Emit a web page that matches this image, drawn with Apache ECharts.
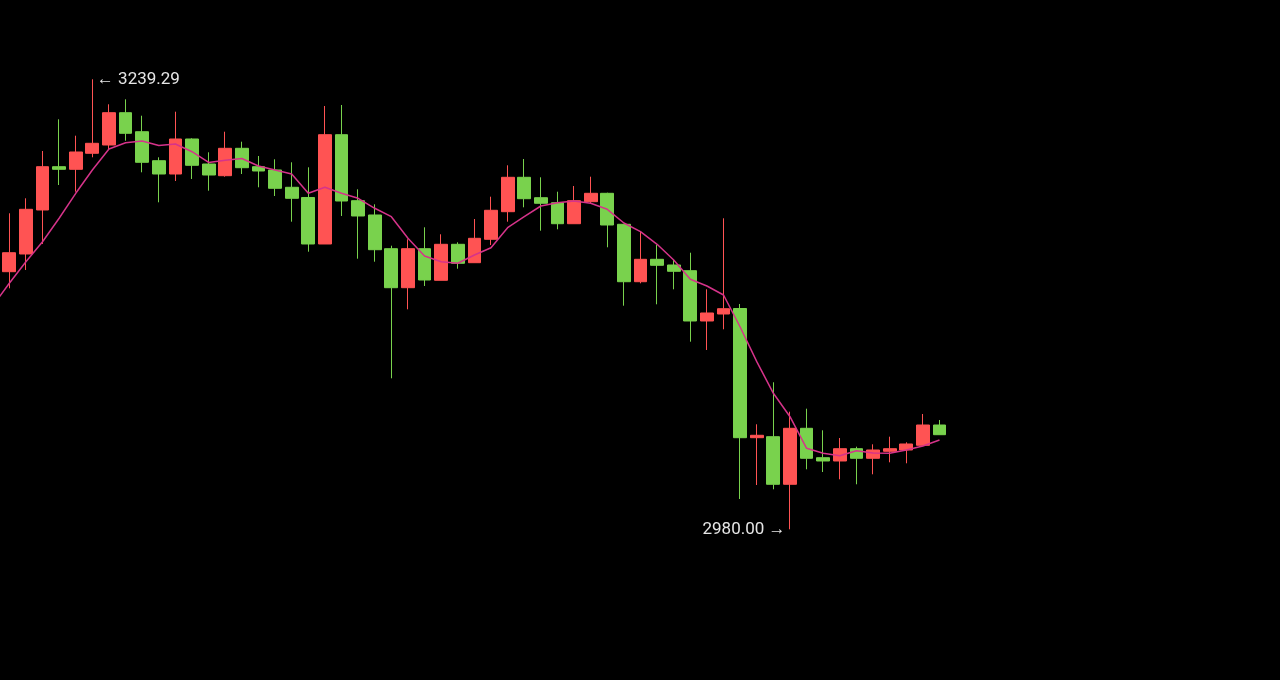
<!DOCTYPE html>
<html>
<head>
<meta charset="utf-8">
<script src="https://cdn.jsdelivr.net/npm/echarts@6/dist/echarts.min.js"></script>
<style>
html,body{margin:0;padding:0;background:#000;}
#main{width:1280px;height:680px;}
</style>
</head>
<body>
<div id="main"></div>
<script>
// Categories (trading days); the first one lies just off the left edge, trailing ones are empty
var categories = [
'2023-03-01','2023-03-02','2023-03-03','2023-03-06','2023-03-07','2023-03-08','2023-03-09','2023-03-10',
'2023-03-13','2023-03-14','2023-03-15','2023-03-16','2023-03-17','2023-03-20','2023-03-21','2023-03-22',
'2023-03-23','2023-03-24','2023-03-27','2023-03-28','2023-03-29','2023-03-30','2023-03-31','2023-04-03',
'2023-04-04','2023-04-05','2023-04-06','2023-04-07','2023-04-10','2023-04-11','2023-04-12','2023-04-13',
'2023-04-14','2023-04-17','2023-04-18','2023-04-19','2023-04-20','2023-04-21','2023-04-24','2023-04-25',
'2023-04-26','2023-04-27','2023-04-28','2023-05-01','2023-05-02','2023-05-03','2023-05-04','2023-05-05',
'2023-05-08','2023-05-09','2023-05-10','2023-05-11','2023-05-12','2023-05-15','2023-05-16','2023-05-17',
'2023-05-18','2023-05-19','2023-05-22','2023-05-23','2023-05-24','2023-05-25','2023-05-26','2023-05-29',
'2023-05-30','2023-05-31','2023-06-01','2023-06-02','2023-06-05','2023-06-06','2023-06-07','2023-06-08',
'2023-06-09','2023-06-12','2023-06-13','2023-06-14','2023-06-15','2023-06-16'
];

// [open, close, lowest, highest]
var ohlc = [
'-',
[3128.43,3139.37,3118.86,3162.08],
[3138.63,3164.38,3129.41,3170.72],
[3163.98,3188.93,3144.39,3197.97],
[3188.93,3187.43,3178.38,3216.24],
[3187.43,3197.40,3174.52,3206.79],
[3196.65,3202.41,3194.34,3239.29],
[3201.43,3220.04,3198.55,3224.88],
[3220.04,3208.17,3203.91,3227.76],
[3209.09,3191.46,3185.70,3218.31],
[3192.38,3184.72,3168.41,3194.34],
[3184.72,3204.89,3180.69,3220.62],
[3204.89,3189.73,3181.84,3205.29],
[3190.48,3184.14,3175.10,3197.22],
[3183.74,3199.53,3183.17,3209.09],
[3199.53,3188.35,3184.72,3203.33],
[3188.93,3186.45,3177.06,3195.09],
[3187.03,3176.48,3172.04,3193.19],
[3177.06,3170.72,3157.24,3191.46],
[3171.18,3144.39,3139.95,3188.58],
[3144.39,3207.37,3144.39,3223.90],
[3207.37,3169.16,3160.52,3224.48],
[3169.34,3160.52,3135.92,3175.91],
[3161.10,3141.10,3134.19,3167.26],
[3141.68,3119.21,3067.00,3143.41],
[3119.21,3141.68,3106.76,3147.10],
[3141.68,3123.64,3120.19,3154.01],
[3123.47,3144.21,3123.47,3149.98],
[3144.21,3133.27,3130.15,3145.37],
[3133.61,3147.67,3133.61,3158.79],
[3147.10,3163.81,3143.81,3171.64],
[3163.00,3182.82,3157.24,3189.73],
[3182.82,3170.49,3165.53,3193.36],
[3171.07,3167.84,3152.05,3182.82],
[3168.18,3156.08,3152.86,3174.52],
[3156.08,3169.34,3156.08,3177.81],
[3168.76,3173.60,3167.44,3183.17],
[3173.60,3155.33,3142.49,3173.95],
[3155.74,3122.66,3108.84,3155.74],
[3122.66,3135.57,3121.74,3151.47],
[3135.57,3132.11,3109.64,3143.81],
[3132.29,3128.66,3118.28,3135.17],
[3129.00,3100.02,3088.09,3139.37],
[3100.02,3104.63,3083.31,3118.28],
[3104.05,3107.11,3095.24,3159.20],
[3107.22,3032.78,2997.46,3109.82],
[3032.78,3034.16,3005.52,3040.50],
[3033.35,3005.93,3003.04,3064.70],
[3005.93,3038.19,2980.00,3047.76],
[3038.19,3020.91,3014.57,3049.49],
[3021.25,3019.35,3013.01,3037.04],
[3019.35,3026.44,3008.81,3032.60],
[3026.44,3020.91,3005.93,3027.59],
[3020.91,3025.69,3011.69,3028.97],
[3024.94,3026.44,3018.60,3033.35],
[3025.69,3029.15,3018.03,3030.13],
[3028.40,3040.09,3028.40,3046.43],
[3040.09,3034.51,3034.51,3042.98]
];

// Moving average line
var ma5 = [
3108.66,3121.74,3134.19,3145.71,3159.20,3173.60,3187.03,3199.13,3202.76,3203.74,
3201.14,3202.01,3197.57,3191.35,3192.67,3193.65,3189.33,3187.03,3184.72,3173.60,
3177.06,3173.60,3170.72,3164.96,3160.12,3147.67,3137.47,3134.19,3133.27,3138.05,
3142.26,3153.78,3160.12,3166.28,3168.18,3169.16,3167.84,3164.38,3156.49,3151.47,
3144.21,3135.17,3124.05,3120.19,3115.00,3096.56,3076.57,3058.36,3044.88,3026.67,
3023.79,3022.41,3025.29,3023.96,3023.79,3025.69,3027.99,3031.45
];

var upColor = '#ff5353';
var downColor = '#79d24d';

var chart = echarts.init(document.getElementById('main'));
chart.setOption({
  animation: false,
  backgroundColor: '#000',
  grid: { left: 1, right: 0, top: 0, bottom: 0 },
  xAxis: {
    type: 'category',
    data: categories,
    boundaryGap: true,
    show: false
  },
  yAxis: {
    type: 'value',
    min: 2893.16,
    max: 3284.98,
    show: false,
    splitLine: { show: false }
  },
  dataZoom: [{
    type: 'inside',
    xAxisIndex: 0,
    startValue: 1,
    endValue: 77,
    filterMode: 'none',
    zoomLock: true
  }],
  series: [
    {
      name: 'K',
      type: 'candlestick',
      data: ohlc,
      barWidth: '80%',
      itemStyle: {
        color: upColor,
        color0: downColor,
        borderColor: upColor,
        borderColor0: downColor,
        borderWidth: 1
      },
      markPoint: {
        symbol: 'circle',
        symbolSize: 1,
        itemStyle: { color: 'rgba(0,0,0,0)' },
        data: [
          {
            type: 'max', valueDim: 'highest',
            label: {
              show: true, position: 'right', distance: 4,
              color: '#e6e6e6', fontSize: 17, fontFamily: 'Roboto',
              formatter: function (p) { return '\u2190 ' + Number(p.value).toFixed(2); }
            }
          },
          {
            type: 'min', valueDim: 'lowest',
            label: {
              show: true, position: 'left', distance: 4,
              color: '#e6e6e6', fontSize: 17, fontFamily: 'Roboto',
              formatter: function (p) { return Number(p.value).toFixed(2) + ' \u2192'; }
            }
          }
        ]
      }
    },
    {
      name: 'MA5',
      type: 'line',
      data: ma5,
      showSymbol: false,
      smooth: false,
      lineStyle: { color: '#d6338a', width: 1.5 }
    }
  ]
});
</script>
</body>
</html>
